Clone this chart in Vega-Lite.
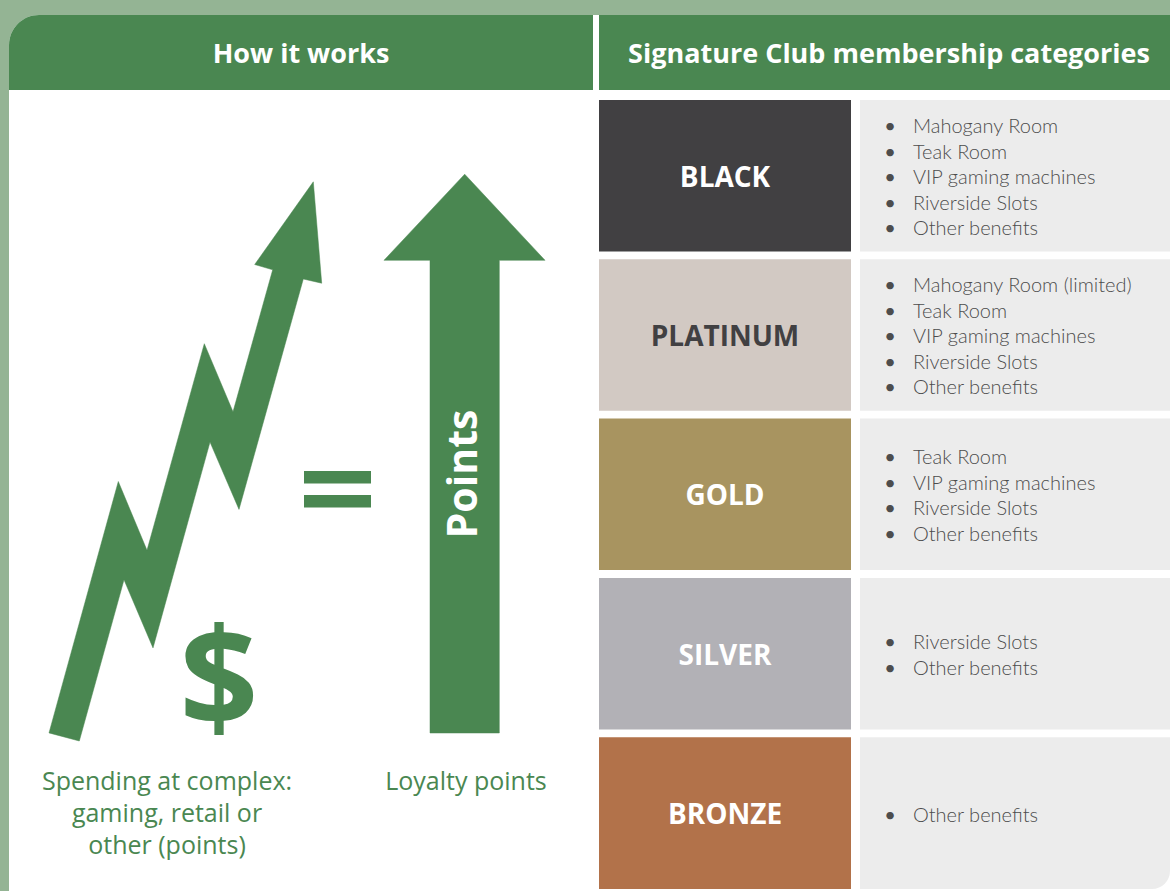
{
  "$schema": "https://vega.github.io/schema/vega-lite/v6.json",
  "width": 1170,
  "height": 891,
  "autosize": {"type": "fit", "contains": "padding"},
  "padding": 0,
  "background": "#94b494",
  "config": {"view": {"stroke": null}},
  "layer": [
    {
      "data": {"values": [{"x": 9, "x2": 1170, "y": 15, "y2": 891}]},
      "mark": {"type": "rect", "fill": "#ffffff", "cornerRadiusTopLeft": 30},
      "encoding": {
        "x": {"field": "x", "type": "quantitative", "scale": {"domain": [0, 1170], "nice": false, "zero": false}, "axis": null},
        "x2": {"field": "x2"},
        "y": {"field": "y", "type": "quantitative", "scale": {"domain": [0, 891], "nice": false, "zero": false, "reverse": true}, "axis": null},
        "y2": {"field": "y2"}
      }
    },
    {
      "data": {"values": [{"x": 9, "x2": 593, "y": 15, "y2": 90}]},
      "mark": {"type": "rect", "fill": "#4a8751", "cornerRadiusTopLeft": 30},
      "encoding": {
        "x": {"field": "x", "type": "quantitative"},
        "x2": {"field": "x2"},
        "y": {"field": "y", "type": "quantitative"},
        "y2": {"field": "y2"}
      }
    },
    {
      "data": {"values": [
        {"k": "header", "x": 599, "x2": 1170, "y": 15, "y2": 90},
        {"k": "BLACK", "x": 599, "x2": 851, "y": 100, "y2": 251.5},
        {"k": "PLATINUM", "x": 599, "x2": 851, "y": 259.3, "y2": 410.8},
        {"k": "GOLD", "x": 599, "x2": 851, "y": 418.6, "y2": 570.1},
        {"k": "SILVER", "x": 599, "x2": 851, "y": 578, "y2": 729.5},
        {"k": "BRONZE", "x": 599, "x2": 851, "y": 737.3, "y2": 889},
        {"k": "detail", "x": 860, "x2": 1170, "y": 100, "y2": 251.5},
        {"k": "detail", "x": 860, "x2": 1170, "y": 259.3, "y2": 410.8},
        {"k": "detail", "x": 860, "x2": 1170, "y": 418.6, "y2": 570.1},
        {"k": "detail", "x": 860, "x2": 1170, "y": 578, "y2": 729.5},
        {"k": "header", "x": 304, "x2": 371, "y": 471, "y2": 483.5},
        {"k": "header", "x": 304, "x2": 371, "y": 495, "y2": 507.5}
      ]},
      "mark": {"type": "rect"},
      "encoding": {
        "x": {"field": "x", "type": "quantitative"},
        "x2": {"field": "x2"},
        "y": {"field": "y", "type": "quantitative"},
        "y2": {"field": "y2"},
        "fill": {
          "field": "k", "type": "nominal", "legend": null,
          "scale": {
            "domain": ["header", "BLACK", "PLATINUM", "GOLD", "SILVER", "BRONZE", "detail"],
            "range": ["#4a8751", "#414042", "#d2c9c3", "#a89460", "#b2b1b6", "#b2724a", "#ececec"]
          }
        }
      }
    },
    {
      "data": {"values": [{"x": 860, "x2": 1170, "y": 737.3, "y2": 889}]},
      "mark": {"type": "rect", "fill": "#ececec", "cornerRadiusBottomRight": 18},
      "encoding": {
        "x": {"field": "x", "type": "quantitative"},
        "x2": {"field": "x2"},
        "y": {"field": "y", "type": "quantitative"},
        "y2": {"field": "y2"}
      }
    },
    {
      "data": {"values": [
        {"id": "zig", "i": 1, "x": 49.0, "y": 732.9},
        {"id": "zig", "i": 2, "x": 79.3, "y": 741.0},
        {"id": "zig", "i": 3, "x": 124.0, "y": 579.8},
        {"id": "zig", "i": 4, "x": 153.0, "y": 647.9},
        {"id": "zig", "i": 5, "x": 210.0, "y": 442.1},
        {"id": "zig", "i": 6, "x": 239.0, "y": 509.4},
        {"id": "zig", "i": 7, "x": 303.3, "y": 279.0},
        {"id": "zig", "i": 8, "x": 321.7, "y": 283.2},
        {"id": "zig", "i": 9, "x": 313.3, "y": 181.8},
        {"id": "zig", "i": 10, "x": 254.7, "y": 264.5},
        {"id": "zig", "i": 11, "x": 272.7, "y": 269.8},
        {"id": "zig", "i": 12, "x": 233.0, "y": 411.8},
        {"id": "zig", "i": 13, "x": 204.3, "y": 343.7},
        {"id": "zig", "i": 14, "x": 147.0, "y": 550.3},
        {"id": "zig", "i": 15, "x": 118.3, "y": 481.5},
        {"id": "up", "i": 1, "x": 464.7, "y": 174.2},
        {"id": "up", "i": 2, "x": 545.0, "y": 260.3},
        {"id": "up", "i": 3, "x": 499.3, "y": 260.3},
        {"id": "up", "i": 4, "x": 499.3, "y": 733.0},
        {"id": "up", "i": 5, "x": 430.0, "y": 733.0},
        {"id": "up", "i": 6, "x": 430.0, "y": 260.3},
        {"id": "up", "i": 7, "x": 384.0, "y": 260.3}
      ]},
      "mark": {"type": "line", "interpolate": "linear-closed", "fill": "#4a8751", "stroke": "#4a8751", "strokeWidth": 0.5},
      "encoding": {
        "x": {"field": "x", "type": "quantitative"},
        "y": {"field": "y", "type": "quantitative"},
        "detail": {"field": "id"},
        "order": {"field": "i", "type": "quantitative"}
      }
    },
    {
      "data": {"values": [
        {"t": "How it works", "x": 301, "y": 63},
        {"t": "Signature Club membership categories", "x": 889, "y": 63}
      ]},
      "mark": {"type": "text", "font": "Open Sans", "fontWeight": "bold", "fontSize": 27, "fill": "#ffffff", "align": "center", "baseline": "alphabetic"},
      "encoding": {
        "x": {"field": "x", "type": "quantitative"},
        "y": {"field": "y", "type": "quantitative"},
        "text": {"field": "t"}
      }
    },
    {
      "data": {"values": [
        {"t": "BLACK", "x": 725, "y": 187},
        {"t": "PLATINUM", "x": 725, "y": 346},
        {"t": "GOLD", "x": 725, "y": 505},
        {"t": "SILVER", "x": 725, "y": 665},
        {"t": "BRONZE", "x": 725, "y": 824}
      ]},
      "mark": {"type": "text", "font": "Open Sans", "fontWeight": "bold", "fontSize": 28, "align": "center", "baseline": "alphabetic"},
      "encoding": {
        "x": {"field": "x", "type": "quantitative"},
        "y": {"field": "y", "type": "quantitative"},
        "text": {"field": "t"},
        "color": {
          "field": "t", "type": "nominal", "legend": null,
          "scale": {"domain": ["BLACK", "PLATINUM", "GOLD", "SILVER", "BRONZE"], "range": ["#ffffff", "#414042", "#ffffff", "#ffffff", "#ffffff"]}
        }
      }
    },
    {
      "data": {"values": [
        {"tier": "BLACK", "t": "Mahogany Room", "y": 133},
        {"tier": "BLACK", "t": "Teak Room", "y": 158.5},
        {"tier": "BLACK", "t": "VIP gaming machines", "y": 184},
        {"tier": "BLACK", "t": "Riverside Slots", "y": 209.5},
        {"tier": "BLACK", "t": "Other benefits", "y": 235},
        {"tier": "PLATINUM", "t": "Mahogany Room (limited)", "y": 292},
        {"tier": "PLATINUM", "t": "Teak Room", "y": 317.5},
        {"tier": "PLATINUM", "t": "VIP gaming machines", "y": 343},
        {"tier": "PLATINUM", "t": "Riverside Slots", "y": 368.5},
        {"tier": "PLATINUM", "t": "Other benefits", "y": 394},
        {"tier": "GOLD", "t": "Teak Room", "y": 464},
        {"tier": "GOLD", "t": "VIP gaming machines", "y": 489.5},
        {"tier": "GOLD", "t": "Riverside Slots", "y": 515},
        {"tier": "GOLD", "t": "Other benefits", "y": 540.5},
        {"tier": "SILVER", "t": "Riverside Slots", "y": 649},
        {"tier": "SILVER", "t": "Other benefits", "y": 674.5},
        {"tier": "BRONZE", "t": "Other benefits", "y": 822}
      ]},
      "layer": [
        {
          "mark": {"type": "text", "font": "Lato", "fontWeight": 300, "fontSize": 20, "fill": "#4d4d4d", "align": "left", "baseline": "alphabetic"},
          "encoding": {
            "x": {"datum": 913, "type": "quantitative"},
            "y": {"field": "y", "type": "quantitative"},
            "text": {"field": "t"}
          }
        },
        {
          "mark": {"type": "text", "font": "Lato", "fontSize": 20, "fill": "#4d4d4d", "align": "center", "baseline": "alphabetic", "text": "•"},
          "encoding": {
            "x": {"datum": 890, "type": "quantitative"},
            "y": {"field": "y", "type": "quantitative"}
          }
        }
      ]
    },
    {
      "data": {"values": [
        {"t": "Spending at complex:", "x": 167, "y": 790},
        {"t": "gaming, retail or", "x": 167, "y": 822},
        {"t": "other (points)", "x": 167, "y": 854},
        {"t": "Loyalty points", "x": 466, "y": 790}
      ]},
      "mark": {"type": "text", "font": "Open Sans", "fontWeight": 500, "fontSize": 25, "fill": "#4a8751", "align": "center", "baseline": "alphabetic"},
      "encoding": {
        "x": {"field": "x", "type": "quantitative"},
        "y": {"field": "y", "type": "quantitative"},
        "text": {"field": "t"}
      }
    },
    {
      "data": {"values": [{"t": "$", "x": 219, "y": 727}]},
      "mark": {"type": "text", "font": "Open Sans", "fontWeight": "bold", "fontSize": 138, "fill": "#4a8751", "align": "center", "baseline": "alphabetic"},
      "encoding": {
        "x": {"field": "x", "type": "quantitative"},
        "y": {"field": "y", "type": "quantitative"},
        "text": {"field": "t"}
      }
    },
    {
      "data": {"values": [{"t": "Points", "x": 477, "y": 474}]},
      "mark": {"type": "text", "font": "Open Sans", "fontWeight": "bold", "fontSize": 41, "fill": "#ffffff", "align": "center", "baseline": "alphabetic", "angle": 270},
      "encoding": {
        "x": {"field": "x", "type": "quantitative"},
        "y": {"field": "y", "type": "quantitative"},
        "text": {"field": "t"}
      }
    }
  ]
}
